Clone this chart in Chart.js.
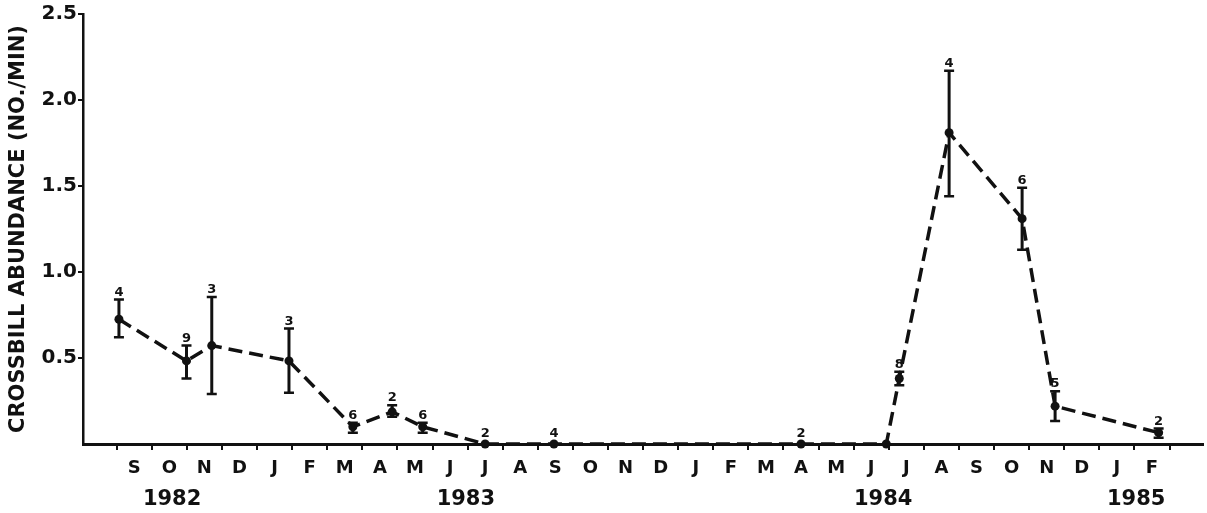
<!DOCTYPE html>
<html><head><meta charset="utf-8">
<script src="https://cdn.jsdelivr.net/npm/chart.js@4.4.1/dist/chart.umd.min.js"></script>
<style>html,body{margin:0;padding:0;background:#fff;}#wrap{width:1207px;height:513px;}</style>
</head><body><div id="wrap"><canvas id="c" width="1207" height="513"></canvas></div>
<script>
// Month labels (Sep 1982 .. Feb 1985), index 0 = S 1982
const monthLabels = ['S','O','N','D','J','F','M','A','M','J','J','A','S','O','N','D','J','F','M','A','M','J','J','A','S','O','N','D','J','F'];
const yearLabels = ['1982','1983','1984','1985'];
const yearPositions = [1.08, 9.45, 21.34, 28.55];
const yTicks = [0.5, 1.0, 1.5, 2.0, 2.5];

// Sample dates (in month-index units) and crossbill abundance (no./min)
const samplePositions = [-0.435, 1.49, 2.21, 4.41, 6.23, 7.35, 8.22, 10.0, 11.96, 19.0, 21.43, 21.80, 23.22, 25.30, 26.24, 29.19];
const abundance      = [0.725, 0.483, 0.572, 0.483, 0.10, 0.187, 0.10, 0, 0, 0, 0, 0.381, 1.81, 1.31, 0.22, 0.066];
const errLow         = [0.62, 0.381, 0.29, 0.298, 0.066, 0.158, 0.066, null, null, null, null, 0.342, 1.44, 1.13, 0.133, 0.036];
const errHigh        = [0.84, 0.572, 0.854, 0.671, 0.124, 0.226, 0.124, null, null, null, null, 0.42, 2.17, 1.49, 0.307, 0.09];
const sampleSize     = [4, 9, 3, 3, 6, 2, 6, 2, 4, 2, null, 8, 4, 6, 5, 2];

const xMin = -1.459, xMax = 30.44;
const FONT = "'DejaVu Sans', 'Liberation Sans', sans-serif";
const INK = '#111';

const errorBarPlugin = {
  id: 'errorBars',
  afterDatasetsDraw(chart) {
    const ctx = chart.ctx, xs = chart.scales.x, ys = chart.scales.y;
    ctx.save();
    ctx.strokeStyle = INK; ctx.fillStyle = INK;
    ctx.font = 'bold 13px ' + FONT;
    ctx.textAlign = 'center'; ctx.textBaseline = 'alphabetic';
    samplePositions.forEach((m, i) => {
      const px = xs.getPixelForValue(m);
      let topY = ys.getPixelForValue(abundance[i]) - 7;
      if (errLow[i] != null) {
        const yl = ys.getPixelForValue(errLow[i]), yh = ys.getPixelForValue(errHigh[i]);
        ctx.lineWidth = 3;
        ctx.beginPath(); ctx.moveTo(px, yl); ctx.lineTo(px, yh); ctx.stroke();
        ctx.lineWidth = 2.5;
        ctx.beginPath();
        ctx.moveTo(px - 5, yl); ctx.lineTo(px + 5, yl);
        ctx.moveTo(px - 5, yh); ctx.lineTo(px + 5, yh);
        ctx.stroke();
        topY = yh - 4;
      }
      if (sampleSize[i] != null) ctx.fillText(String(sampleSize[i]), px, topY);
    });
    ctx.restore();
  }
};

new Chart(document.getElementById('c'), {
  type: 'line',
  data: {
    datasets: [{
      data: samplePositions.map((m, i) => ({x: m, y: abundance[i]})),
      borderColor: INK,
      borderWidth: 3.5,
      borderDash: [14, 7],
      pointRadius: 4.5,
      pointBackgroundColor: INK,
      pointBorderWidth: 0,
      tension: 0,
      clip: false,
      xAxisID: 'x',
      yAxisID: 'y'
    }]
  },
  options: {
    responsive: false,
    animation: false,
    devicePixelRatio: 1,
    layout: {padding: {top: 14, right: 2, left: 0, bottom: 0}},
    plugins: {legend: {display: false}, tooltip: {enabled: false}},
    scales: {
      x: {
        type: 'linear', position: 'bottom', min: xMin, max: xMax, weight: 0,
        afterBuildTicks: s => { s.ticks = monthLabels.map((_, i) => ({value: i})); },
        ticks: {autoSkip: false, maxRotation: 0, padding: 8, color: INK,
                font: {family: FONT, size: 18, weight: 'bold'},
                callback: (v, i) => monthLabels[i]},
        grid: {offset: true, drawOnChartArea: false, drawTicks: true, tickLength: 6, color: INK, lineWidth: 2},
        border: {display: true, color: INK, width: 3},
        afterFit: s => { s.height = 40; }
      },
      years: {
        type: 'linear', position: 'bottom', min: xMin, max: xMax, weight: 1,
        afterBuildTicks: s => { s.ticks = yearPositions.map(v => ({value: v})); },
        ticks: {autoSkip: false, maxRotation: 0, padding: 3, color: INK,
                font: {family: FONT, size: 21, weight: 'bold'},
                callback: (v, i) => yearLabels[i]},
        grid: {display: false, drawTicks: false},
        border: {display: false},
        afterFit: s => { s.height = 29; }
      },
      y: {
        type: 'linear', position: 'left', min: 0, max: 2.5,
        afterBuildTicks: s => { s.ticks = yTicks.map(v => ({value: v})); },
        ticks: {padding: 1, color: INK, font: {family: FONT, size: 20, weight: 'bold'},
                callback: v => Number(v).toFixed(1)},
        grid: {drawOnChartArea: false, drawTicks: true, tickLength: 5, color: INK, lineWidth: 2},
        border: {display: true, color: INK, width: 2.5},
        title: {display: true, text: 'CROSSBILL ABUNDANCE (NO./MIN)', color: INK,
                font: {family: FONT, size: 21, weight: 'bold'}, padding: {top: 6, bottom: 0}},
        afterFit: s => { s.width = 83; }
      }
    }
  },
  plugins: [errorBarPlugin]
});
</script>
</body></html>
